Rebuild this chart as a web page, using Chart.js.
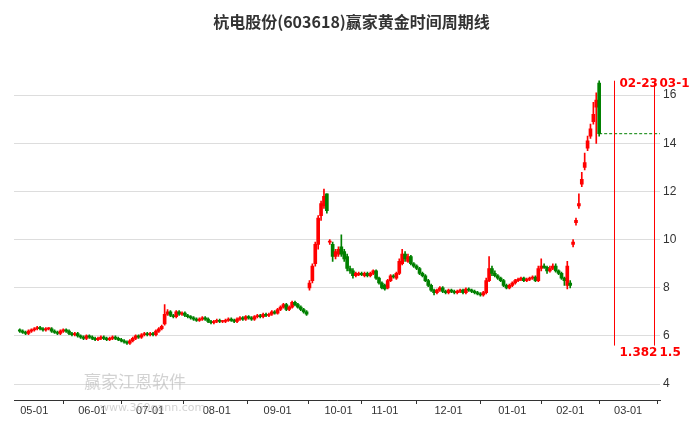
<!DOCTYPE html><html><head><meta charset="utf-8">
<script src="https://cdn.jsdelivr.net/npm/chart.js@4.4.0/dist/chart.umd.min.js"></script>
<style>body{margin:0;background:#fff}canvas{display:block}</style></head><body>
<canvas id="c" width="689" height="427"></canvas>
<script>
const opens=[6.25,6.2,6.15,6.1,6.2,6.25,6.3,6.35,6.3,6.25,6.3,6.3,6.2,6.15,6.1,6.2,6.25,6.2,6.1,6.05,6.1,6.0,5.95,5.9,6.0,5.95,5.9,5.85,5.9,5.95,5.9,5.85,5.9,5.95,5.9,5.85,5.8,5.75,5.7,5.8,5.9,6.0,5.95,6.05,6.1,6.05,6.1,6.05,6.2,6.3,6.5,6.9,7.0,6.85,6.8,7.0,6.9,6.95,6.85,6.8,6.75,6.7,6.65,6.7,6.75,6.7,6.6,6.55,6.6,6.65,6.6,6.6,6.65,6.7,6.65,6.6,6.7,6.75,6.7,6.8,6.75,6.7,6.8,6.85,6.8,6.9,6.85,6.9,7.0,6.95,7.1,7.2,7.3,7.1,7.2,7.4,7.3,7.2,7.1,7.0,8.0,8.3,9.0,9.8,11.0,11.4,11.9,9.9,9.8,9.3,9.4,9.7,9.5,9.3,8.8,8.7,8.5,8.55,8.6,8.5,8.6,8.5,8.6,8.7,8.4,8.2,8.1,8.0,8.3,8.5,8.4,8.6,9.0,9.4,9.1,9.3,9.0,8.9,8.8,8.6,8.5,8.3,8.1,7.9,7.8,7.9,8.0,7.85,7.8,7.9,7.85,7.8,7.85,7.9,7.8,7.95,7.9,7.85,7.8,7.75,7.7,7.8,8.3,8.8,8.6,8.5,8.4,8.3,8.1,8.0,8.1,8.2,8.3,8.35,8.4,8.3,8.35,8.4,8.45,8.3,8.8,8.9,8.85,8.7,8.8,8.9,8.7,8.6,8.4,8.1,8.2,9.8,10.7,11.4,12.3,13.0,13.8,14.3,14.9,15.5,16.5];
const closes=[6.2,6.15,6.1,6.2,6.25,6.3,6.35,6.3,6.25,6.3,6.3,6.2,6.15,6.1,6.2,6.25,6.2,6.1,6.05,6.1,6.0,5.95,5.9,6.0,5.95,5.9,5.85,5.9,5.95,5.9,5.85,5.9,5.95,5.9,5.85,5.8,5.75,5.7,5.8,5.9,6.0,5.95,6.05,6.1,6.05,6.1,6.05,6.2,6.3,6.4,6.9,7.0,6.85,6.8,7.0,6.9,6.95,6.85,6.8,6.75,6.7,6.65,6.7,6.75,6.7,6.6,6.55,6.6,6.65,6.6,6.6,6.65,6.7,6.65,6.6,6.7,6.75,6.7,6.8,6.75,6.7,6.8,6.85,6.8,6.9,6.85,6.9,7.0,6.95,7.1,7.2,7.3,7.1,7.2,7.4,7.3,7.2,7.1,7.0,6.9,8.2,8.9,9.8,10.9,11.5,11.8,11.2,9.9,9.3,9.5,9.6,9.4,9.2,8.8,8.7,8.5,8.6,8.6,8.55,8.6,8.5,8.6,8.7,8.4,8.2,8.0,7.95,8.3,8.5,8.45,8.6,9.1,9.4,9.2,9.3,9.0,8.9,8.8,8.6,8.5,8.3,8.1,7.9,7.8,7.9,8.0,7.85,7.8,7.9,7.85,7.8,7.85,7.9,7.8,7.95,7.9,7.85,7.8,7.75,7.7,7.8,8.3,8.8,8.6,8.5,8.4,8.3,8.1,8.0,8.1,8.2,8.3,8.35,8.4,8.3,8.35,8.4,8.45,8.3,8.8,8.9,8.85,8.7,8.8,8.9,8.7,8.6,8.4,8.3,8.9,8.1,9.9,10.8,11.5,12.5,13.2,14.1,14.6,15.2,15.8,14.4];
const highs=[6.3,6.25,6.2,6.25,6.3,6.35,6.4,6.4,6.35,6.35,6.35,6.35,6.25,6.2,6.25,6.3,6.3,6.25,6.15,6.15,6.15,6.05,6.0,6.05,6.05,6.0,5.95,5.95,6.0,6.0,5.95,5.95,6.0,6.0,5.95,5.9,5.85,5.8,5.85,5.95,6.05,6.05,6.1,6.15,6.15,6.15,6.15,6.25,6.35,6.45,7.3,7.1,7.05,6.9,7.05,7.05,7.0,7.0,6.9,6.85,6.8,6.75,6.75,6.8,6.8,6.75,6.65,6.65,6.7,6.7,6.65,6.7,6.75,6.75,6.7,6.75,6.8,6.8,6.85,6.85,6.8,6.85,6.9,6.9,6.95,6.95,6.95,7.05,7.05,7.15,7.25,7.35,7.35,7.25,7.45,7.45,7.35,7.25,7.15,7.05,8.3,9.0,9.9,11.0,11.6,12.1,11.9,10.0,9.9,9.6,9.7,10.2,9.6,9.4,8.9,8.8,8.65,8.65,8.65,8.65,8.65,8.65,8.75,8.75,8.45,8.25,8.15,8.35,8.55,8.55,8.65,9.2,9.6,9.5,9.4,9.35,9.05,8.95,8.85,8.65,8.55,8.35,8.15,7.95,7.95,8.05,8.05,7.9,7.95,7.95,7.9,7.9,7.95,7.95,8.0,8.0,7.95,7.9,7.85,7.8,7.85,8.4,9.3,8.9,8.7,8.55,8.45,8.35,8.15,8.15,8.25,8.35,8.4,8.45,8.45,8.4,8.45,8.5,8.5,8.9,9.2,9.0,8.9,8.9,9.0,9.0,8.75,8.65,8.45,9.1,8.3,10.0,10.9,11.9,12.8,13.6,14.3,14.8,15.7,16.1,16.6];
const lows=[6.15,6.1,6.05,6.05,6.15,6.2,6.25,6.25,6.2,6.2,6.25,6.15,6.1,6.05,6.05,6.15,6.15,6.05,6.0,6.0,5.95,5.9,5.85,5.85,5.9,5.85,5.8,5.8,5.85,5.85,5.8,5.8,5.85,5.85,5.8,5.75,5.7,5.65,5.65,5.75,5.85,5.9,5.9,6.0,6.0,6.0,6.0,6.0,6.15,6.25,6.45,6.85,6.8,6.75,6.75,6.85,6.85,6.8,6.75,6.7,6.65,6.6,6.6,6.65,6.65,6.55,6.5,6.5,6.55,6.55,6.55,6.55,6.6,6.6,6.55,6.55,6.65,6.65,6.65,6.7,6.65,6.65,6.75,6.75,6.75,6.8,6.8,6.85,6.9,6.9,7.05,7.15,7.05,7.05,7.15,7.25,7.15,7.05,6.95,6.85,7.9,8.2,8.9,9.6,10.8,11.3,11.1,9.8,9.1,9.2,9.3,9.3,9.1,8.7,8.6,8.4,8.45,8.5,8.5,8.45,8.45,8.45,8.55,8.35,8.15,7.95,7.9,7.95,8.25,8.4,8.35,8.55,8.95,9.1,9.05,8.95,8.85,8.75,8.55,8.45,8.25,8.05,7.85,7.7,7.75,7.85,7.8,7.75,7.75,7.8,7.75,7.75,7.8,7.75,7.75,7.85,7.8,7.75,7.7,7.65,7.65,7.75,8.25,8.5,8.45,8.35,8.25,8.05,7.95,7.95,8.05,8.15,8.25,8.3,8.25,8.25,8.3,8.35,8.25,8.25,8.7,8.8,8.6,8.65,8.75,8.65,8.55,8.35,8.1,7.95,8.0,9.7,10.6,11.3,12.2,12.9,13.7,14.2,14.8,14.0,14.3];
const tickIdx=[5,25,45,68,89,110,126,148,170,190,210];
const tickLabels=['05-01','06-01','07-01','08-01','09-01','10-01','11-01','12-01','01-01','02-01','03-01'];
const yTicks=[4,6,8,10,12,14,16];
const flatLevel=14.4, flatFrom=200, flatTo=225;
const marks=[{idx:205,date:'02-23',ratio:'1.382'},{idx:219,date:'03-13',ratio:'1.5'}];

const col=i=>closes[i]>=opens[i]?'#ff0000':'#008000';
const wick=lows.map((l,i)=>({x:i,y:[l,highs[i]]}));
const body=opens.map((o,i)=>({x:i,y:[Math.min(o,closes[i]),Math.max(o,closes[i])+(Math.abs(o-closes[i])<0.04?0.04:0)]}));
const overlay={id:'ov',afterDatasetsDraw(ch){const c=ch.ctx,x=ch.scales.x,y=ch.scales.y;c.save();
 marks.forEach(m=>{const px=Math.round(x.getPixelForValue(m.idx))+0.5;c.strokeStyle='#ff0000';c.lineWidth=1;c.beginPath();c.moveTo(px,y.getPixelForValue(16.6));c.lineTo(px,y.getPixelForValue(5.6));c.stroke();
 c.fillStyle='#ff0000';c.font='bold 12px "DejaVu Sans",sans-serif';c.textBaseline='middle';c.fillText(m.date,px+5,84);c.fillText(m.ratio,px+5,353);});
 c.fillStyle='rgba(180,180,180,0.6)';c.font='17px "Noto Sans CJK SC"';c.fillText('赢家江恩软件',84,382);
 c.font='11px "DejaVu Sans"';c.fillText('www.360gann.com',100,408);
 c.restore();}};
new Chart(document.getElementById('c'),{type:'bar',
 data:{datasets:[
  {data:wick,backgroundColor:wick.map((_,i)=>col(i)),barThickness:1,grouped:false,order:2},
  {data:body,backgroundColor:body.map((_,i)=>col(i)),barThickness:3,grouped:false,order:1},
  {type:'line',data:[{x:flatFrom,y:flatLevel},{x:flatTo,y:flatLevel}],borderColor:'#008000',borderWidth:1,borderDash:[3,2],pointRadius:0,order:0}
 ]},
 plugins:[overlay],
 options:{responsive:false,animation:false,
  layout:{padding:{left:14,right:0,top:0,bottom:0}},
  plugins:{legend:{display:false},tooltip:{enabled:false},
   title:{display:true,text:'杭电股份(603618)赢家黄金时间周期线',font:{size:16,weight:'bold',family:'"Noto Sans CJK SC"'},color:'#333',padding:{top:12,bottom:24}}},
  scales:{
   x:{type:'linear',min:-2,max:221,offset:false,
    afterBuildTicks:s=>{s.ticks=tickIdx.map(v=>({value:v}));},
    afterFit:s=>{s.height=27;},
    ticks:{callback:(v)=>tickLabels[tickIdx.indexOf(v)]||'',color:'#333',font:{size:11},maxRotation:0,autoSkip:false,padding:0},
    grid:{display:true,drawOnChartArea:false,color:'#333',tickLength:4},border:{color:'#333'}},
   y:{position:'right',min:3.34,max:17.66,
    afterBuildTicks:s=>{s.ticks=yTicks.map(v=>({value:v}));},
    afterFit:s=>{s.width=29;},
    ticks:{color:'#333',font:{size:12},padding:3},
    grid:{color:'#dddddd',drawTicks:false},border:{display:false}}
  }}});
</script></body></html>
